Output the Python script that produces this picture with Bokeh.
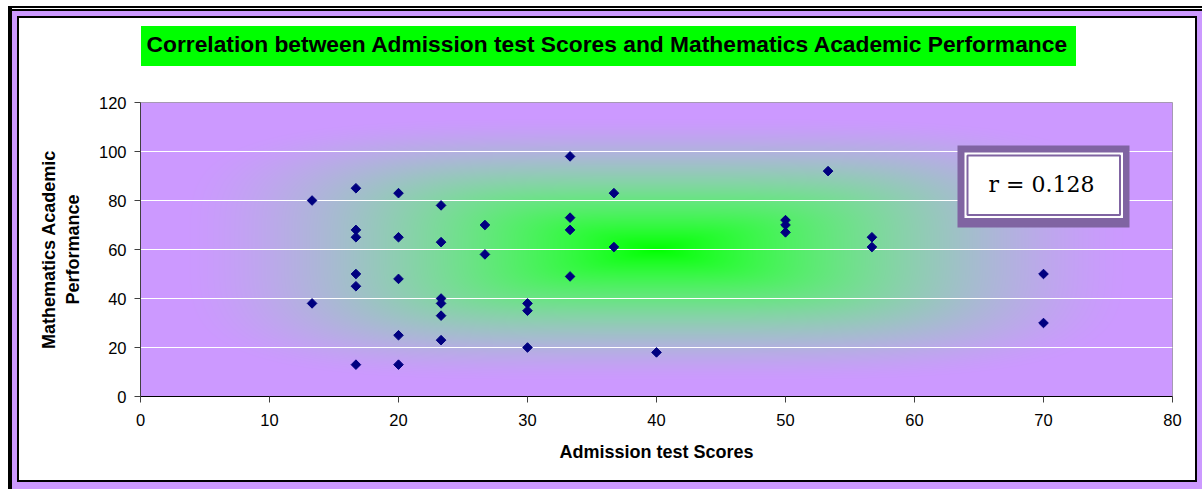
import numpy as np
from bokeh.plotting import figure
from bokeh.models import Range1d, FixedTicker, BoxAnnotation, Label, Title
from bokeh.embed import file_html
from bokeh.resources import INLINE

# ---------------- data ----------------
admission_scores = [13.3, 13.3,
                    16.7, 16.7, 16.7, 16.7, 16.7, 16.7,
                    20, 20, 20, 20, 20,
                    23.3, 23.3, 23.3, 23.3, 23.3, 23.3,
                    26.7, 26.7,
                    30, 30, 30,
                    33.3, 33.3, 33.3, 33.3,
                    36.7, 36.7,
                    40,
                    50, 50, 50,
                    53.3,
                    56.7, 56.7,
                    70, 70]
math_performance = [80, 38,
                    85, 68, 65, 50, 45, 13,
                    83, 65, 48, 25, 13,
                    78, 63, 40, 38, 33, 23,
                    70, 58,
                    38, 35, 20,
                    98, 73, 68, 49,
                    83, 61,
                    18,
                    72, 70, 67,
                    92,
                    65, 61,
                    50, 30]
x_ticks = [0, 10, 20, 30, 40, 50, 60, 70, 80]
y_ticks = [0, 20, 40, 60, 80, 100, 120]
grid_ticks = [20, 40, 60, 80, 100]
title_text = "Correlation between Admission test Scores and Mathematics Academic Performance"
x_label = "Admission test Scores"
y_label = "Mathematics Academic\nPerformance"
r_text = "r = 0.128"

# ---------------- styling ----------------
LILAC = np.array([204, 153, 255], dtype=float)
GREEN = np.array([0, 255, 0], dtype=float)
PURPLE = "#8064A2"
W, H = 1202, 489
FL, FR, FT, FB = 140, 30, 102, 93
FW, FH = W - FL - FR, H - FT - FB

p = figure(width=W, height=H, output_backend="svg", toolbar_location=None,
           x_range=Range1d(0, 80), y_range=Range1d(0, 120),
           min_border_left=FL, min_border_right=FR,
           min_border_top=FT, min_border_bottom=FB,
           x_axis_label=x_label, y_axis_label=y_label)
p.border_fill_alpha = 0
p.outline_line_color = "#9a9a9a"
p.outline_line_width = 1


def layer(color, x, y, w, h):
    return f"linear-gradient({color},{color}) {x}px {y}px / {w}px {h}px no-repeat"


# chart-area frame and title box painted behind the (transparent) canvas border
p.styles = {
    "background": ", ".join([
        layer("#00FF00", 141, 26, 935, 40),      # title box
        layer("#FFFFFF", 19, 18, 1176, 462),     # white chart area
        layer("#000000", 17, 16, 1180, 466),     # inner black line
        layer("#CC99FF", 12, 11, 1190, 478),     # lilac band
        layer("#FFFFFF", 12, 8, 1190, 1),        # gap of the top double line
        layer("#000000", 8, 6, 1194, 483),       # outer black line
    ]) + ", #FFFFFF",
}

# background gradient of the plot area (from centre, green -> lilac)
cols = (np.arange(FW) + 0.5 - FW / 2) / (FW / 2)
rows = (np.arange(FH) + 0.5 - FH / 2) / (FH / 2)
U, V = np.meshgrid(cols, rows)
R = (np.abs(U / 0.92) ** 4 + np.abs(V / 0.9) ** 4) ** 0.25
T = 1 - (1 - np.clip(R, 0, 1)) ** 1.5
img = np.empty((FH, FW), dtype=np.uint32)
view = img.view(dtype=np.uint8).reshape((FH, FW, 4))
view[:, :, 0] = np.round(GREEN[0] + (LILAC[0] - GREEN[0]) * T).astype(np.uint8)
view[:, :, 1] = np.round(GREEN[1] + (LILAC[1] - GREEN[1]) * T ** 2).astype(np.uint8)
view[:, :, 2] = np.round(GREEN[2] + (LILAC[2] - GREEN[2]) * T).astype(np.uint8)
view[:, :, 3] = 255
p.image_rgba(image=[img], x=0, y=0, dw=80, dh=120, level="image")

# grid
p.xgrid.visible = False
p.ygrid.ticker = FixedTicker(ticks=grid_ticks)
p.ygrid.grid_line_color = "white"
p.ygrid.grid_line_width = 1

# axes
for ax, ticks in ((p.xaxis, x_ticks), (p.yaxis, y_ticks)):
    ax.ticker = FixedTicker(ticks=ticks)
    ax.minor_tick_line_color = None
    ax.major_tick_in = 0
    ax.major_tick_out = 6
    ax.major_label_text_font = "Liberation Sans"
    ax.major_label_text_font_size = "16.5px"
    ax.major_label_text_color = "black"
    ax.axis_label_text_font = "Liberation Sans"
    ax.axis_label_text_font_style = "bold"
    ax.axis_label_text_font_size = "18px"
    ax.axis_label_text_color = "black"
p.xaxis.axis_line_color = "black"
p.xaxis.major_tick_line_color = "#404040"
p.yaxis.axis_line_color = "#404040"
p.yaxis.major_tick_line_color = "#404040"
p.xaxis.major_label_standoff = 11
p.yaxis.major_label_standoff = 8
p.xaxis.axis_label_standoff = 13
p.yaxis.axis_label_standoff = 13

# title (text only; the green box is painted behind it).  A blank second
# line makes the title block taller so the text sits higher above the frame.
p.title = Title(text=title_text + "\n\u00a0", align="left", offset=6,
                standoff=26, vertical_align="top", text_line_height=1.2,
                text_font="Liberation Sans", text_font_style="bold",
                text_font_size="22.8px", text_color="black")

# scatter points
p.scatter(admission_scores, math_performance, marker="square", angle=np.pi / 4,
          size=6.8, fill_color="#000080", line_color="#000080")


def cbox(l, t, r, b, fill=None, line=None, lw=1):
    return BoxAnnotation(left=l, right=r, top=t, bottom=b,
                         left_units="canvas", right_units="canvas",
                         top_units="canvas", bottom_units="canvas",
                         fill_color=fill if fill else "white",
                         fill_alpha=1 if fill else 0,
                         line_color=line if line else "black",
                         line_alpha=1 if line else 0,
                         line_width=lw, level="overlay")


# r annotation box
p.add_layout(cbox(957, 145, 1129, 227, PURPLE))
p.add_layout(cbox(964, 152, 1122.5, 217.5, "white"))
p.add_layout(cbox(967, 155, 1119.5, 214.5, "white", PURPLE, 2))
p.add_layout(Label(x=1041, y=184, x_units="canvas", y_units="canvas",
                   text=r_text, text_font="DejaVu Serif",
                   text_font_size="22px", text_align="center",
                   text_baseline="middle", text_color="black", level="overlay"))

open("out.html", "w").write(file_html(p, INLINE))
